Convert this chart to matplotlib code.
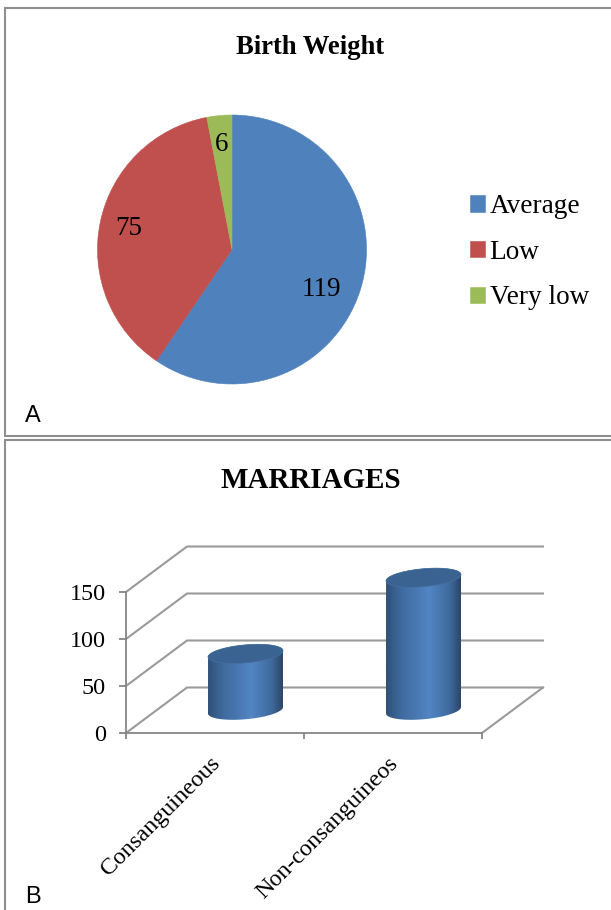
import numpy as np
import matplotlib
matplotlib.use("Agg")
import matplotlib.pyplot as plt
from matplotlib.patches import Polygon
from matplotlib.colors import LinearSegmentedColormap
from matplotlib.transforms import ScaledTranslation

W, H = 611, 910
SERIF = "Liberation Serif"
plt.rcParams["font.family"] = SERIF

# --- data ---
pie_title = "Birth Weight"
pie_labels = ["Average", "Low", "Very low"]
pie_values = [119, 75, 6]
pie_colors = ["#4F81BD", "#C0504D", "#9BBB59"]

bar_title = "MARRIAGES"
bar_categories = ["Consanguineous", "Non-consanguineos"]
bar_values = [60, 141]
y_ticks = [0, 50, 100, 150]


def px_axes(fig, x0, y0, x1, y1):
    """Axes from pixel box (top-left origin)."""
    return fig.add_axes([x0 / W, 1 - y1 / H, (x1 - x0) / W, (y1 - y0) / H])


fig = plt.figure(figsize=(W / 100, H / 100), dpi=100, facecolor="white")

# --- panel frames ---
bg = fig.add_axes([0, 0, 1, 1])
bg.set_xlim(0, W)
bg.set_ylim(H, 0)
bg.axis("off")
fc = "#8E8E8E"
flw = 1.5
bg.plot([611, 5, 5, 611], [7.5, 7.5, 436, 436], color=fc, lw=flw, solid_joinstyle="miter")
bg.plot([611, 5, 5], [440, 440, 910], color=fc, lw=flw, solid_joinstyle="miter")
bg.text(25, 422, "A", fontsize=17, family="Liberation Sans", va="baseline", ha="left")
bg.text(25, 903, "B", fontsize=17, family="Liberation Sans", va="baseline", ha="left")
bg.text(310.5, 47, pie_title, fontsize=19.2, fontweight="bold", ha="center", va="center")
bg.text(310.5, 480, bar_title, fontsize=20.9, fontweight="bold", ha="center", va="center")

# --- pie ---
R = 134.5
cx, cy = 232, 249.5
pie_ax = px_axes(fig, cx - R, cy - R, cx + R, cy + R)
wedges, _ = pie_ax.pie(pie_values, colors=pie_colors, startangle=90, counterclock=False, radius=1,
                       wedgeprops=dict(linewidth=0.4))
for w_, c_ in zip(wedges, pie_colors):
    w_.set_edgecolor(c_)
pie_ax.set_xlim(-1, 1)
pie_ax.set_ylim(-1, 1)
label_pos = [(0.667, -0.30), (-0.77, 0.155), (-0.074, 0.78)]
for v, (lx, ly) in zip(pie_values, label_pos):
    pie_ax.text(lx, ly, str(v), fontsize=19.5, ha="center", va="center", color="black")
leg = pie_ax.legend(wedges, pie_labels, loc="upper left",
                    bbox_to_anchor=(470 / W, 1 - 194 / H), bbox_transform=fig.transFigure,
                    frameon=False, fontsize=19.6, labelspacing=0.76,
                    handlelength=0.55, handleheight=0.55, handletextpad=0.17,
                    borderpad=0, borderaxespad=0)

# --- 3D-look cylinder chart ---
x0, x1, y0, y150 = 126, 482, 733, 592
ax = px_axes(fig, x0, y150, x1, y0)
ax.set_xlim(0, len(bar_categories))
ax.set_ylim(0, 150)
ax.patch.set_alpha(0)
for s in ("top", "right"):
    ax.spines[s].set_visible(False)
axc = "#868686"
for s in ("left", "bottom"):
    ax.spines[s].set_color(axc)
    ax.spines[s].set_linewidth(1.3)

px_x = len(bar_categories) / (x1 - x0)
px_y = 150 / (y0 - y150)
dx, dy = 61 * px_x, 45.5 * px_y

for t in y_ticks:
    ax.plot([0, dx, 2 + dx], [t, t + dy, t + dy], color="#9A9A9A", lw=1.5, clip_on=False, zorder=1)
ax.plot([2, 2 + dx], [0, dy], color="#9A9A9A", lw=1.5, clip_on=False, zorder=1)

ax.set_yticks(y_ticks)
ax.set_yticklabels([str(t) for t in y_ticks], fontsize=17.4)
ax.set_xticks(range(len(bar_categories) + 1))
ax.set_xticklabels([""] * (len(bar_categories) + 1))
ax.tick_params(axis="y", which="major", length=5, width=1.3, color=axc, pad=9.5)
ax.tick_params(axis="x", which="major", length=4, width=1.3, color=axc)
ax.set_xticks([i + 0.5 for i in range(len(bar_categories))], minor=True)
ax.set_xticklabels(bar_categories, minor=True, rotation=45, ha="right", va="top",
                   rotation_mode="anchor", fontsize=17.3)
ax.tick_params(axis="x", which="minor", length=0, pad=14.2)
for lab in ax.get_xticklabels(minor=True):
    lab.set_transform(lab.get_transform() + ScaledTranslation(-5.5 / 100, 0, fig.dpi_scale_trans))

cmap = LinearSegmentedColormap.from_list("cyl", [(0, "#2F5078"), (0.2, "#3F6A9E"), (0.58, "#5285C4"),
                                                 (0.85, "#3F6A9E"), (1, "#2B4668")])
a = 37.5 * px_x
b = 9 * px_y
shear = 3.2 * px_y
t = np.linspace(0, 2 * np.pi, 121)
for i, v in enumerate(bar_values):
    cxb = i + 0.5 + dx / 2
    base = dy / 2
    top = base + v
    ex = a * np.cos(t)
    ey = b * np.sin(t) + shear * np.cos(t)
    lower = t >= np.pi
    bot_x = cxb + ex[lower]
    bot_y = base + ey[lower]
    top_x = cxb + ex[~lower]
    top_y = top + ey[~lower]
    body = np.column_stack([np.r_[bot_x, top_x], np.r_[bot_y, top_y]])
    poly = Polygon(body, closed=True, transform=ax.transData, facecolor="none", edgecolor="none",
                   clip_on=False)
    ax.add_patch(poly)
    grad = np.linspace(0, 1, 256).reshape(1, -1)
    im = ax.imshow(grad, cmap=cmap, aspect="auto", extent=(cxb - a, cxb + a, base - b - 1, top + b + 1),
                   zorder=3)
    im.set_clip_box(fig.bbox)
    im.set_clip_path(poly)
    ax.add_patch(Polygon(np.column_stack([cxb + ex, top + ey]), closed=True,
                         facecolor="#3B6391", edgecolor="#44719F", lw=0.5, zorder=4, clip_on=False))
ax.set_xlim(0, len(bar_categories))
ax.set_ylim(0, 150)

fig.savefig("out.png", dpi=100)
